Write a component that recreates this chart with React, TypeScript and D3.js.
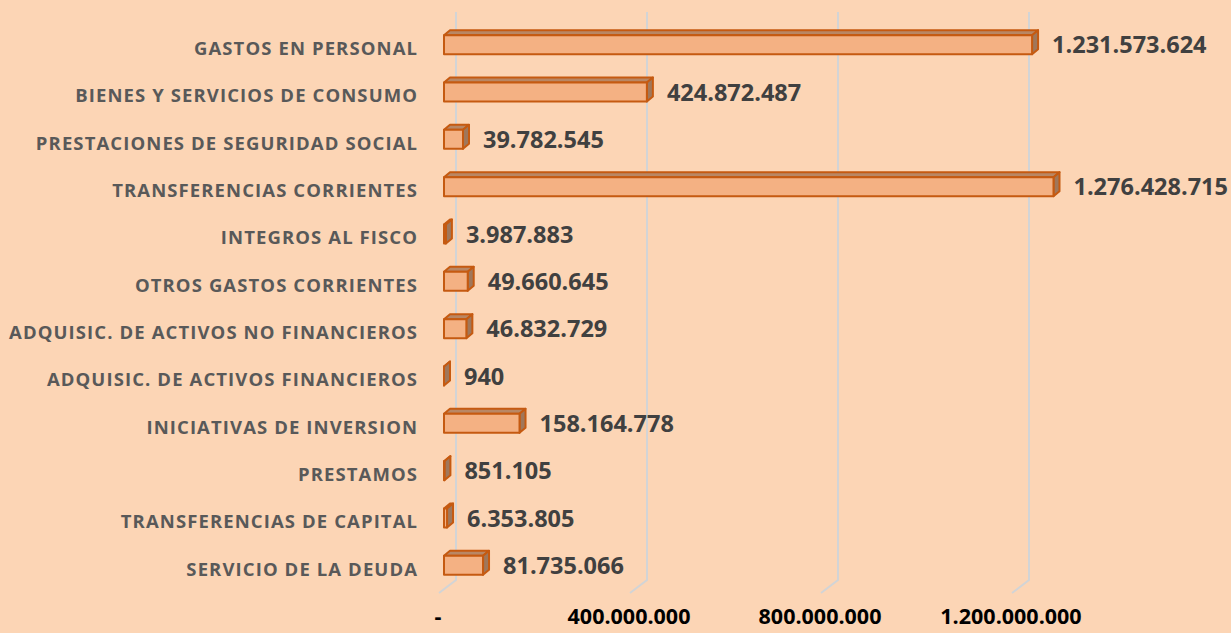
import React, { useRef, useEffect } from 'react';
import * as d3 from 'd3';

const categories = [
  'GASTOS EN PERSONAL',
  'BIENES Y SERVICIOS DE CONSUMO',
  'PRESTACIONES DE SEGURIDAD SOCIAL',
  'TRANSFERENCIAS CORRIENTES',
  'INTEGROS AL FISCO',
  'OTROS GASTOS CORRIENTES',
  'ADQUISIC. DE ACTIVOS NO FINANCIEROS',
  'ADQUISIC. DE ACTIVOS FINANCIEROS',
  'INICIATIVAS DE INVERSION',
  'PRESTAMOS',
  'TRANSFERENCIAS DE CAPITAL',
  'SERVICIO DE LA DEUDA',
];

const values = [
  1231573624, 424872487, 39782545, 1276428715, 3987883, 49660645,
  46832729, 940, 158164778, 851105, 6353805, 81735066,
];

const ticks = [0, 400000000, 800000000, 1200000000];

const locale = d3.formatLocale({ decimal: ',', thousands: '.', grouping: [3], currency: ['$', ''] });
const fmt = locale.format(',');

const W = 1231;
const H = 633;
const FONT = '"Open Sans", Lato, sans-serif';

const App: React.FC = () => {
  const svgRef = useRef<SVGSVGElement | null>(null);

  useEffect(() => {
    if (!svgRef.current) return;
    const svg = d3.select(svgRef.current);
    svg.selectAll('*').remove();

    // x scale on the front plane of the bars
    const x = d3.scaleLinear().domain([0, 400000000]).range([444, 635]);
    const y = d3.scaleBand<string>().domain(categories).range([21, 589]);

    const barH = 19;
    const dx = 6; // bar depth
    const dy = -5;
    const wallDx = 12; // back wall offset from bar front
    const floorDx = -5; // floor front edge offset
    const wallTop = 12;
    const wallBottom = 580;
    const floorBottom = 593;
    const catSpacing = 1.1;

    svg.append('rect').attr('width', W).attr('height', H).attr('fill', '#FCD5B5');

    // gridlines on back wall + floor
    svg.append('g')
      .selectAll('path')
      .data(ticks)
      .enter()
      .append('path')
      .attr('d', d => {
        const bx = x(d) + wallDx;
        return `M${bx},${wallTop}L${bx},${wallBottom}L${x(d) + floorDx},${floorBottom}`;
      })
      .attr('fill', 'none')
      .attr('stroke', '#D2D4D6')
      .attr('stroke-width', 2);

    // axis labels
    svg.append('g')
      .selectAll('text')
      .data(ticks)
      .enter()
      .append('text')
      .attr('x', d => x(d) - 6)
      .attr('y', 624)
      .attr('text-anchor', 'middle')
      .attr('font-family', FONT)
      .attr('font-weight', 700)
      .attr('font-size', 21.5)
      .attr('fill', '#000')
      .text(d => (d === 0 ? '-' : fmt(d)));

    // category labels
    svg.append('g')
      .selectAll('text')
      .data(categories)
      .enter()
      .append('text')
      .attr('x', 417 + catSpacing)
      .attr('y', d => (y(d) as number) + y.bandwidth() / 2 + 4)
      .attr('dy', '0.35em')
      .attr('text-anchor', 'end')
      .attr('font-family', FONT)
      .attr('font-weight', 700)
      .attr('font-size', 18.5)
      .attr('letter-spacing', catSpacing)
      .attr('fill', '#595959')
      .text(d => d);

    const rows = categories.map((c, i) => ({ c, v: values[i] }));

    const bars = svg.append('g')
      .selectAll('g')
      .data(rows)
      .enter()
      .append('g')
      .attr('stroke', '#C55A11')
      .attr('stroke-width', 2)
      .attr('stroke-linejoin', 'round');

    const x0 = x(0);
    bars.each(function (d) {
      const g = d3.select(this);
      const cy = (y(d.c) as number) + y.bandwidth() / 2;
      const top = cy - barH / 2;
      const bot = cy + barH / 2;
      const x1 = x(d.v);
      // top face
      g.append('path')
        .attr('d', `M${x0},${top}L${x0 + dx},${top + dy}L${x1 + dx},${top + dy}L${x1},${top}Z`)
        .attr('fill', '#B98764');
      // side face
      g.append('path')
        .attr('d', `M${x1},${top}L${x1 + dx},${top + dy}L${x1 + dx},${bot + dy}L${x1},${bot}Z`)
        .attr('fill', '#A0775A');
      // front face
      g.append('rect')
        .attr('x', x0)
        .attr('y', top)
        .attr('width', Math.max(0, x1 - x0))
        .attr('height', barH)
        .attr('fill', '#F4B183');
    });

    // value labels
    svg.append('g')
      .selectAll('text')
      .data(rows)
      .enter()
      .append('text')
      .attr('x', d => x(d.v) + 20)
      .attr('y', d => (y(d.c) as number) + y.bandwidth() / 2 + 0.5)
      .attr('dy', '0.35em')
      .attr('font-family', FONT)
      .attr('font-weight', 700)
      .attr('font-size', 23.5)
      .attr('fill', '#404040')
      .text(d => fmt(d.v));
  }, []);

  return (
    <svg
      ref={svgRef}
      width={W}
      height={H}
      style={{ position: 'absolute', left: 0, top: 0, display: 'block' }}
    />
  );
};

export default App;
